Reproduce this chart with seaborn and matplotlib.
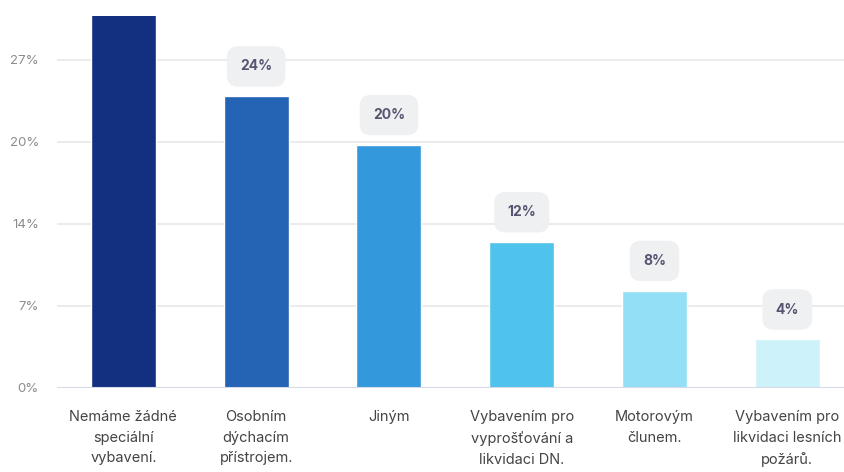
import pandas as pd
import matplotlib.pyplot as plt
import seaborn as sns

# data
categories = ["Nemáme žádné\nspeciální\nvybavení.", "Osobním\ndýchacím\npřístrojem.", "Jiným",
              "Vybavením pro\nvyprošťování a\nlikvidaci DN.", "Motorovým\nčlunem.",
              "Vybavením pro\nlikvidaci lesních\npožárů."]
values = [32, 24, 20, 12, 8, 4]
colors = ["#12307f", "#2563b4", "#3498dc", "#4fc3ec", "#93dff5", "#cdf2fa"]
tick_vals = [0, 6.75, 13.5, 20.25, 27]
tick_labels = ["0%", "7%", "14%", "20%", "27%"]

sns.set_style("white")
plt.rcParams['font.family'] = ['Inter', 'DejaVu Sans']

df = pd.DataFrame({"cat": categories, "val": values})

fig = plt.figure(figsize=(8.44, 4.72), dpi=100)
ax = fig.add_axes([0.0675, 0.178, 0.944, 0.788])
sns.barplot(data=df, x="cat", y="val", hue="cat", palette=colors, legend=False,
            width=0.49, saturation=1, ax=ax, zorder=3)

ax.set_ylim(0, 30.6)
ax.set_xlim(-0.5, 5.5)
ax.set_yticks(tick_vals)
ax.set_yticklabels(tick_labels, color="#8c8c8c", fontsize=9.5)
ax.tick_params(axis="y", length=0, pad=13)
ax.tick_params(axis="x", length=0, pad=16, labelsize=10.5, labelcolor="#444444")
for lbl in ax.get_xticklabels():
    lbl.set_verticalalignment("top")
    lbl.set_linespacing(1.6)

for y in tick_vals[1:]:
    ax.axhline(y, color="#e8e8e8", lw=1.2, zorder=1)
ax.axhline(0, color="#d6d9e8", lw=1.5, zorder=4)

for s in ax.spines.values():
    s.set_visible(False)
ax.set_xlabel("")
ax.set_ylabel("")

# value labels
for i, v in enumerate(values):
    ax.annotate(f"{v}%", (i, v), xytext=(0, 21.5), textcoords="offset points",
                ha="center", va="center", fontsize=10, fontweight="bold", color="#555572",
                bbox=dict(boxstyle="round,pad=0.95,rounding_size=0.8", fc="#eff0f1", ec="none"),
                annotation_clip=True, zorder=5)

fig.savefig("out.png", dpi=100)
